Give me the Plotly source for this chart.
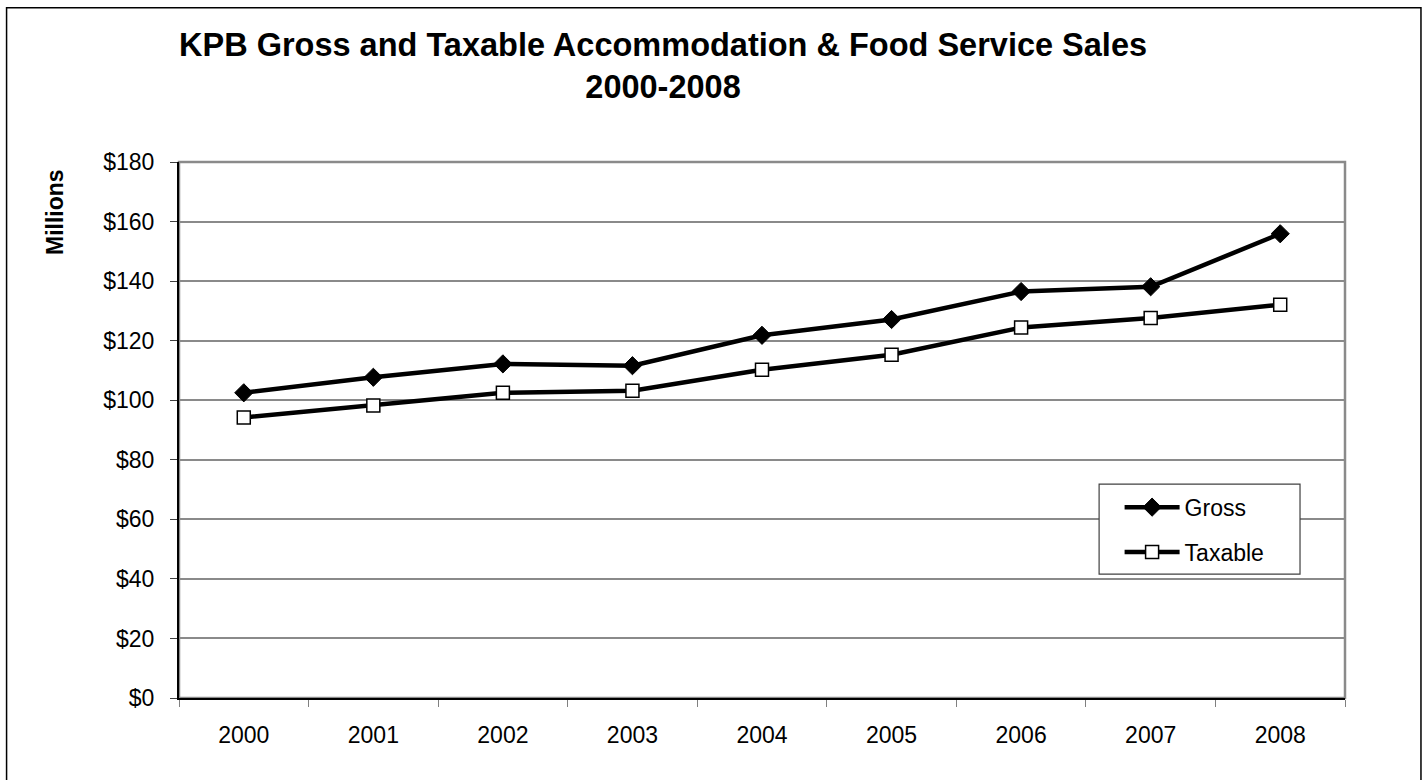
import plotly.graph_objects as go

years = ["2000", "2001", "2002", "2003", "2004", "2005", "2006", "2007", "2008"]
gross = [102.5, 107.7, 112.2, 111.6, 121.8, 127.1, 136.5, 138.1, 155.9]
taxable = [94.2, 98.2, 102.5, 103.2, 110.2, 115.3, 124.4, 127.6, 132.1]
y_ticks = [0, 20, 40, 60, 80, 100, 120, 140, 160, 180]
y_labels = ["$" + str(v) for v in y_ticks]

W, H = 1426, 780
L, R, T, B = 179, 1345.5, 162, 698.5
pw, ph = R - L, B - T

def px(x):
    return (x - L) / pw

def py(y):
    return (B - y) / ph

fig = go.Figure()
fig.add_trace(go.Scatter(
    x=years, y=gross, name="Gross", mode="lines+markers", legendgroup="g",
    line=dict(color="black", width=4.5),
    marker=dict(symbol="diamond", size=14, color="black", line=dict(color="black", width=1)),
))
fig.add_trace(go.Scatter(
    x=years, y=taxable, name="Taxable", mode="lines+markers", legendgroup="t",
    line=dict(color="black", width=4.5),
    marker=dict(symbol="square", size=13, color="white", line=dict(color="black", width=1.5)),
))

font = "Arial, Liberation Sans, sans-serif"
fig.update_layout(
    width=W, height=H,
    margin=dict(l=L, r=W - R, t=T, b=H - B, pad=0),
    paper_bgcolor="white", plot_bgcolor="white",
    font=dict(family=font, color="black", size=23),
    showlegend=True,
    legend=dict(
        x=px(1120), y=py(486), xanchor="left", yanchor="top",
        borderwidth=0, bgcolor="rgba(0,0,0,0)",
        font=dict(size=23, family=font), itemwidth=55,
        tracegroupgap=12,
    ),
    xaxis=dict(
        type="category", range=[-0.5, 8.5], tickson="boundaries",
        ticks="outside", ticklen=7, tickcolor="#808080",
        showline=True, linecolor="black", linewidth=2,
        showgrid=False, tickfont=dict(size=23), fixedrange=True,
        ticklabelstandoff=15,
    ),
    yaxis=dict(
        range=[0, 180], tickvals=y_ticks, ticktext=y_labels,
        ticks="outside", ticklen=7, tickcolor="#404040",
        showline=True, linecolor="black", linewidth=2,
        showgrid=True, gridcolor="#8a8a8a", gridwidth=1.5,
        zeroline=False, tickfont=dict(size=23), fixedrange=True,
        ticklabelstandoff=11,
    ),
    shapes=[
        dict(type="rect", xref="paper", yref="paper", x0=0, x1=1, y0=0, y1=1,
             line=dict(color="#8a8a8a", width=2.5), layer="below"),
        dict(type="rect", xref="paper", yref="paper",
             x0=px(6.5), x1=px(1421.5), y0=py(782), y1=py(7.5),
             line=dict(color="black", width=1.5)),
        dict(type="rect", xref="paper", yref="paper",
             x0=px(1099.5), x1=px(1300.5), y0=py(574.5), y1=py(484.5),
             line=dict(color="#404040", width=1.2), fillcolor="white", layer="above"),
    ],
    annotations=[
        dict(text="<b>KPB Gross and Taxable Accommodation & Food Service Sales<br>2000-2008</b>",
             xref="paper", yref="paper", x=px(663), y=py(66), xanchor="center", yanchor="middle",
             showarrow=False, font=dict(size=32.5, family=font), align="center"),
        dict(text="<b>Millions</b>", xref="paper", yref="paper", x=px(55), y=py(212),
             xanchor="center", yanchor="middle", textangle=-90, showarrow=False,
             font=dict(size=23, family=font)),
    ],
)

fig.write_html("out.html", post_script="document.body.style.margin='0';",
               config={"displayModeBar": False})
